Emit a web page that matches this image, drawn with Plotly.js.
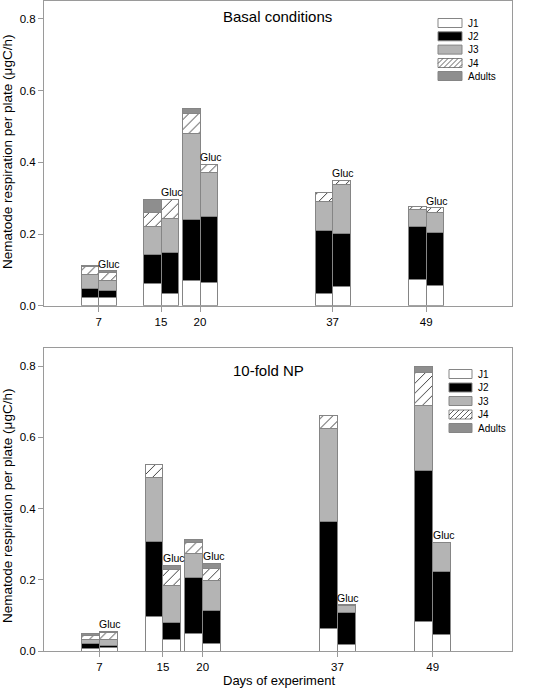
<!DOCTYPE html>
<html>
<head>
<meta charset="utf-8">
<script src="https://cdn.plot.ly/plotly-3.0.1.min.js"></script>
<style>html,body{margin:0;padding:0;background:#fff;}#chart{width:548px;height:688px;}</style>
</head>
<body>
<div id="chart"></div>
<script>
// ---- data (µgC/h per plate) ----
const days = [7, 15, 20, 37, 49];
const stages = ["J1", "J2", "J3", "J4", "Adults"];
const panelTitles = ["Basal conditions", "10-fold NP"];
const glucLabel = "Gluc";

// Basal conditions, control (no glucose)
const basalCtrlJ1 = [0.022, 0.063, 0.069, 0.034, 0.074];
const basalCtrlJ2 = [0.025, 0.081, 0.171, 0.177, 0.148];
const basalCtrlJ3 = [0.041, 0.076, 0.241, 0.081, 0.047];
const basalCtrlJ4 = [0.021, 0.040, 0.056, 0.025, 0.008];
const basalCtrlAd = [0.003, 0.037, 0.012, 0, 0];
// Basal conditions, glucose
const basalGlucJ1 = [0.022, 0.034, 0.064, 0.055, 0.056];
const basalGlucJ2 = [0.020, 0.114, 0.185, 0.147, 0.148];
const basalGlucJ3 = [0.029, 0.096, 0.122, 0.135, 0.057];
const basalGlucJ4 = [0.023, 0.051, 0.024, 0.013, 0.012];
const basalGlucAd = [0.004, 0.002, 0, 0, 0];
// 10-fold NP, control
const npCtrlJ1 = [0.008, 0.096, 0.048, 0.063, 0.082];
const npCtrlJ2 = [0.012, 0.211, 0.159, 0.300, 0.424];
const npCtrlJ3 = [0.011, 0.179, 0.067, 0.263, 0.183];
const npCtrlJ4 = [0.012, 0.039, 0.032, 0.035, 0.094];
const npCtrlAd = [0.007, 0, 0.008, 0, 0.017];
// 10-fold NP, glucose
const npGlucJ1 = [0.009, 0.033, 0.020, 0.017, 0.046];
const npGlucJ2 = [0.007, 0.048, 0.095, 0.091, 0.178];
const npGlucJ3 = [0.017, 0.103, 0.083, 0.020, 0.081];
const npGlucJ4 = [0.019, 0.045, 0.035, 0, 0];
const npGlucAd = [0.003, 0.012, 0.014, 0.002, 0];

// ---- styling ----
const FONT = "Liberation Sans, Arial, sans-serif";
const stageFill = ["#ffffff", "#000000", "#b4b4b4", "#ffffff", "#8e8e8e"];
const outline = "#858585";
const axisCol = "#9a9a9a";
const halfOff = 1.125, barW = 2.25;

const panels = [
  {ctrl: [basalCtrlJ1, basalCtrlJ2, basalCtrlJ3, basalCtrlJ4, basalCtrlAd],
   gluc: [basalGlucJ1, basalGlucJ2, basalGlucJ3, basalGlucJ4, basalGlucAd],
   xa: "x", ya: "y"},
  {ctrl: [npCtrlJ1, npCtrlJ2, npCtrlJ3, npCtrlJ4, npCtrlAd],
   gluc: [npGlucJ1, npGlucJ2, npGlucJ3, npGlucJ4, npGlucAd],
   xa: "x2", ya: "y2"}
];

const traces = [];
panels.forEach((p, pi) => {
  stages.forEach((s, si) => {
    const x = days.map(d => d - halfOff).concat(days.map(d => d + halfOff));
    const y = p.ctrl[si].concat(p.gluc[si]).map(v => v === 0 ? null : v);
    const marker = {color: stageFill[si], line: {color: outline, width: 1}};
    if (s === "J4") {
      marker.pattern = {shape: "/", fgcolor: "#3a3a3a", bgcolor: "#ffffff", size: 7, solidity: 0.14, fillmode: "replace"};
    }
    traces.push({type: "bar", name: s, x: x, y: y, width: barW, marker: marker,
      xaxis: p.xa, yaxis: p.ya, showlegend: false, hoverinfo: "skip"});
  });
});

// ---- pixel helpers for layout decorations ----
const L = 44, R = 512, T = 1, B = 651;
const px = v => (v - L) / (R - L);
const py = v => (B - v) / (B - T);

const annotations = [];
const shapes = [];
function note(xp, yp, text, size, extra) {
  annotations.push(Object.assign({x: px(xp), y: py(yp), xref: "paper", yref: "paper", text: text,
    showarrow: false, xanchor: "center", yanchor: "middle",
    font: {family: FONT, size: size, color: "#000"}}, extra || {}));
}

// Gluc labels on top of glucose bars
panels.forEach((p, pi) => {
  days.forEach((d, di) => {
    const tot = p.gluc.reduce((a, arr) => a + arr[di], 0);
    annotations.push({x: d + halfOff, y: tot, xref: p.xa, yref: p.ya, text: glucLabel,
      showarrow: false, yanchor: "bottom", xanchor: "center", xshift: 2, yshift: -1,
      font: {family: FONT, size: 10.5, color: "#000"}});
  });
});

// panel titles
note(277, 17, panelTitles[0], 15);
note(268, 370, panelTitles[1], 15);

// y-axis titles
const ytitle = "Nematode respiration per plate (μgC/h)";
note(7, 152, ytitle, 13.5, {textangle: -90});
note(7, 506, ytitle, 13.5, {textangle: -90});
// x-axis title
note(279, 680, "Days of experiment", 13);

// custom legends
function legend(x0, x1, centers, labelX) {
  centers.forEach((cy, si) => {
    const y0 = cy - 4.5, y1 = cy + 4.5;
    shapes.push({type: "rect", xref: "paper", yref: "paper", x0: px(x0), x1: px(x1), y0: py(y1), y1: py(y0),
      fillcolor: stageFill[si], line: {color: outline, width: 1}, layer: "above"});
    if (stages[si] === "J4") {
      const h = y1 - y0;
      let path = "";
      for (let a = x0 - h; a <= x1; a += 5) {
        const t0 = Math.max(0, x0 - a), t1 = Math.min(h, x1 - a);
        if (t1 <= t0) continue;
        path += "M" + px(a + t0) + "," + py(y1 - t0) + "L" + px(a + t1) + "," + py(y1 - t1);
      }
      shapes.push({type: "path", xref: "paper", yref: "paper", path: path,
        line: {color: "#3a3a3a", width: 0.8}, layer: "above"});
    }
    note(labelX, cy, stages[si], 10, {xanchor: "left"});
  });
}
legend(438, 462, [23, 36.3, 49.6, 63, 76], 466);
legend(449, 472, [374, 387.5, 401, 414.5, 428], 476);

const axisCommon = {showline: true, mirror: true, linecolor: axisCol, linewidth: 1,
  ticks: "outside", ticklen: 5, tickcolor: axisCol, showgrid: false, zeroline: false,
  tickfont: {family: FONT, size: 11.5, color: "#000"}};

const layout = {
  width: 548, height: 688,
  margin: {l: L, r: 548 - R, t: T, b: 688 - B},
  paper_bgcolor: "#fff", plot_bgcolor: "#fff",
  barmode: "stack", bargap: 0,
  showlegend: false,
  xaxis: Object.assign({}, axisCommon, {domain: [0, 1], range: [0, 60], tickvals: days, anchor: "y"}),
  yaxis: Object.assign({}, axisCommon, {domain: [0.5312, 1], range: [0, 0.85], tickvals: [0, 0.2, 0.4, 0.6, 0.8], tickformat: ".1f", anchor: "x"}),
  xaxis2: Object.assign({}, axisCommon, {domain: [0, 1], range: [0, 59], tickvals: days, anchor: "y2"}),
  yaxis2: Object.assign({}, axisCommon, {domain: [0, 0.4657], range: [0, 0.85], tickvals: [0, 0.2, 0.4, 0.6, 0.8], tickformat: ".1f", anchor: "x2"}),
  annotations: annotations,
  shapes: shapes
};

Plotly.newPlot("chart", traces, layout, {staticPlot: true, displayModeBar: false});
</script>
</body>
</html>
